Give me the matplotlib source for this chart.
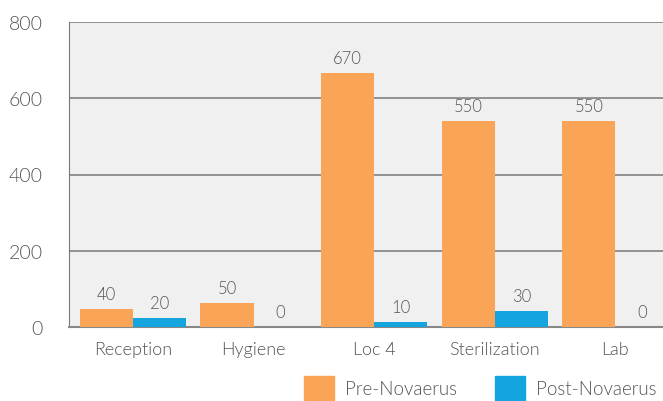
import numpy as np
import matplotlib
matplotlib.use('Agg')
import matplotlib.pyplot as plt
from matplotlib.patches import Patch

plt.rcParams['font.family'] = ['Lato', 'DejaVu Sans']
plt.rcParams['font.weight'] = 300

# dados
areas = ['Reception', 'Hygiene', 'Loc 4', 'Sterilization', 'Lab']
pre_alturas = [48, 64, 666, 540, 540]
post_alturas = [24, 0, 14, 43, 0]
pre_rotulos = ['40', '50', '670', '550', '550']
post_rotulos = ['20', '0', '10', '30', '0']
series = ['Pre-Novaerus', 'Post-Novaerus']

cor_pre = '#F9A456'
cor_post = '#14A5DE'
cinza = '#555555'

fig = plt.figure(figsize=(6.63, 4.02), dpi=100)
ax = fig.add_axes([69/663, 1 - 328/402, (663 - 69)/663 + 0.01, (328 - 23)/402])
ax.set_facecolor('#f0f0f0')

x = np.arange(len(areas))
w = 0.44
b1 = ax.bar(x - w/2, pre_alturas, w, color=cor_pre, zorder=3)
b2 = ax.bar(x + w/2, post_alturas, w, color=cor_post, zorder=3)

# rotulos de valor acima das barras
for barras, rot in [(b1, pre_rotulos), (b2, post_rotulos)]:
    for b, r in zip(barras, rot):
        ax.annotate(r, (b.get_x() + b.get_width()/2, b.get_height()),
                    xytext=(0, 5), textcoords='offset points',
                    ha='center', va='bottom', fontsize=12, color=cinza, zorder=4)

ax.set_ylim(0, 800)
ax.set_xlim(-0.53, 4.45)
ax.set_yticks([0, 200, 400, 600, 800])
ax.set_xticks(x)
ax.set_xticklabels(areas)
ax.tick_params(length=0, labelsize=13, colors=cinza, pad=10)
ax.tick_params(axis='y', labelsize=14, pad=19)
ax.yaxis.grid(True, color='#8a8a8a', linewidth=1.3, zorder=1)
ax.set_axisbelow(True)
for s in ['top', 'right']:
    ax.spines[s].set_visible(False)
ax.spines['left'].set_color('#777777')
ax.spines['bottom'].set_color('#888888')
ax.spines['bottom'].set_linewidth(1.5)

handles = [Patch(color=cor_pre), Patch(color=cor_post)]
fig.legend(handles, series, loc='lower left', bbox_to_anchor=(287/663, -0.04),
           ncol=2, frameon=False, fontsize=13.5, labelcolor=cinza,
           handlelength=1.6, handleheight=1.6, columnspacing=2.0, handletextpad=0.6)

fig.savefig('out.png', dpi=100)
